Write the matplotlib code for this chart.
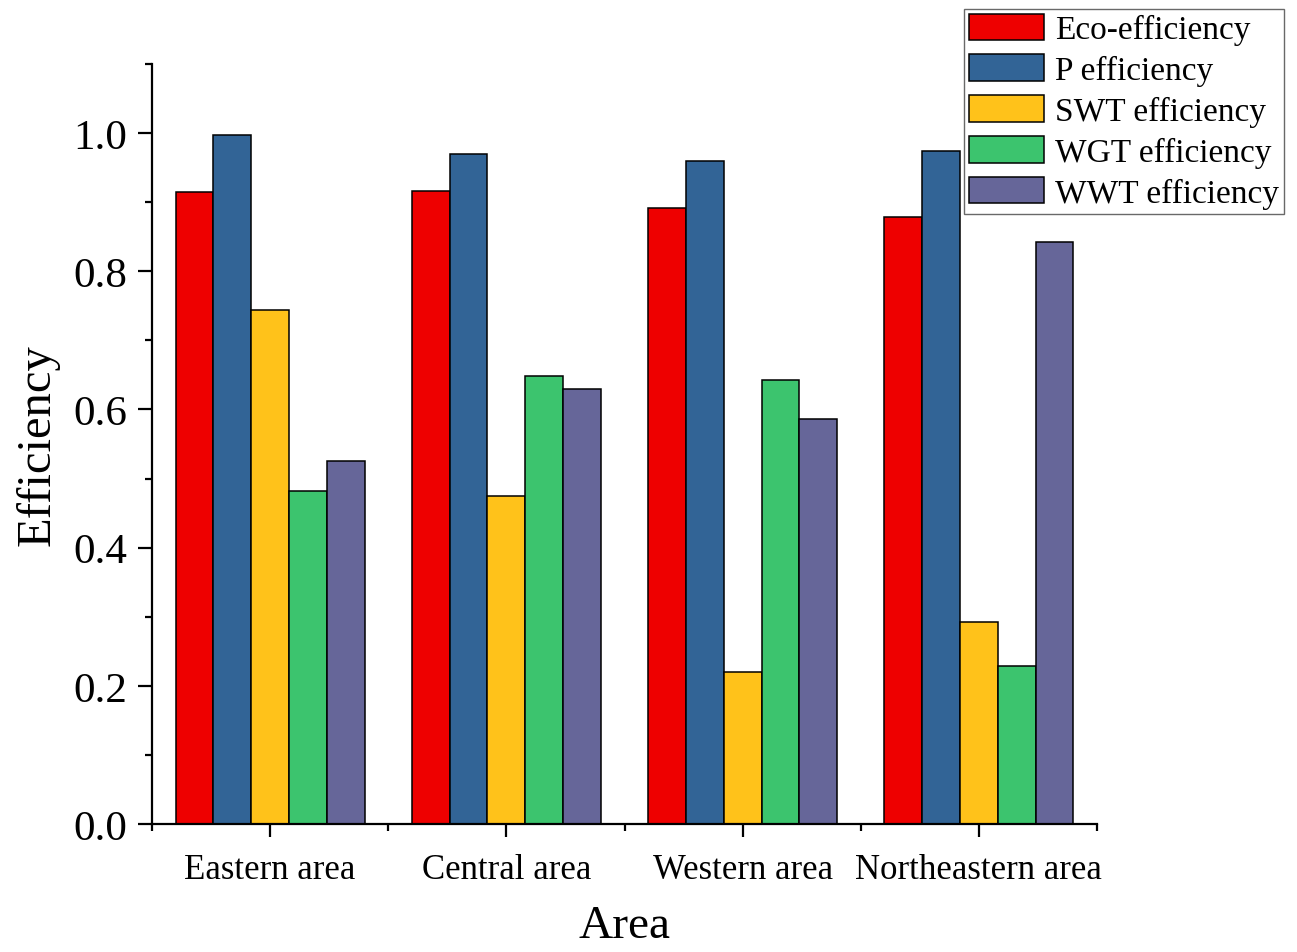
import numpy as np
import matplotlib
matplotlib.use("Agg")
import matplotlib.pyplot as plt
from matplotlib.ticker import MultipleLocator, FormatStrFormatter

plt.rcParams['font.family'] = ['Liberation Serif', 'DejaVu Serif']

areas = ["Eastern area", "Central area", "Western area", "Northeastern area"]
series_names = ["Eco-efficiency", "P efficiency", "SWT efficiency",
                "WGT efficiency", "WWT efficiency"]
eco = [0.915, 0.916, 0.891, 0.878]
p_eff = [0.997, 0.970, 0.959, 0.974]
swt = [0.744, 0.475, 0.220, 0.292]
wgt = [0.482, 0.648, 0.643, 0.229]
wwt = [0.525, 0.630, 0.586, 0.842]
colors = ["#EE0000", "#326496", "#FFC21A", "#3CC46E", "#666699"]


def main():
    fig = plt.figure(figsize=(12.97, 9.53), dpi=100)
    ax = fig.add_axes([0.1172, 0.1343, 0.7286, 0.7975])

    values = [eco, p_eff, swt, wgt, wwt]
    x = np.arange(len(areas))
    width = 0.16
    handles = []
    for i, (vals, name, col) in enumerate(zip(values, series_names, colors)):
        offset = (i - 2) * width
        h = ax.bar(x + offset, vals, width, color=col, edgecolor="black",
                   linewidth=1.1, label=name)
        handles.append(h)

    ax.set_xlim(-0.5, 3.5)
    ax.set_ylim(0, 1.1)
    ax.set_xticks(x)
    ax.set_xticklabels(areas)
    ax.set_xticks(np.arange(-0.5, 3.6, 1.0), minor=True)
    ax.yaxis.set_major_locator(MultipleLocator(0.2))
    ax.yaxis.set_minor_locator(MultipleLocator(0.1))
    ax.yaxis.set_major_formatter(FormatStrFormatter("%.1f"))

    for side in ("top", "right"):
        ax.spines[side].set_visible(False)
    for side in ("left", "bottom"):
        ax.spines[side].set_linewidth(1.6)

    ax.tick_params(axis="both", which="major", direction="out", length=10,
                   width=1.6)
    ax.tick_params(axis="both", which="minor", direction="out", length=5,
                   width=1.6)
    ax.tick_params(axis="y", which="major", labelsize=31, pad=8)
    ax.tick_params(axis="x", which="major", labelsize=25, pad=12, length=9)

    ax.set_xlabel("Area", fontsize=34, labelpad=13)
    ax.set_ylabel("Efficiency", fontsize=35, labelpad=10)

    leg = fig.legend(handles=handles, loc="upper right",
                     bbox_to_anchor=(0.990, 0.990), fontsize=24,
                     frameon=True, fancybox=False, edgecolor="#444444",
                     handlelength=2.25, handleheight=0.85, handletextpad=0.33,
                     labelspacing=0.27, borderpad=0.15, borderaxespad=0)
    leg.get_frame().set_linewidth(1.0)

    fig.savefig("out.png", dpi=100)
    plt.close(fig)


if __name__ == "__main__":
    main()
